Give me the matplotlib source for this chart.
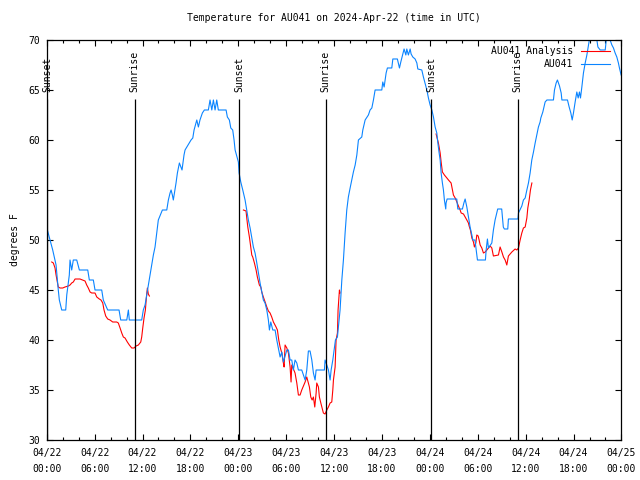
import numpy as np
import matplotlib
matplotlib.use('Agg')
from matplotlib import pyplot as plt
import matplotlib.dates as mdates

plt.rcParams['font.family'] = ['DejaVu Sans Mono']
plt.rcParams['font.size'] = 7

start = np.datetime64('2024-04-22T00:00')

# AU041 observed (hours after 04/22 00:00 UTC, degrees F)
obs_h = [0.08, 0.41, 0.75, 1.17, 1.45, 1.58, 1.88, 2.38, 2.51, 2.83, 2.92, 3.13, 3.33, 3.76, 4.09,
         5.14, 5.34, 5.84, 6.05, 6.89, 7.09, 7.64, 9.06, 9.27, 10.03, 10.23, 10.35, 11.9, 12.1,
         12.32, 12.53, 12.73, 12.94, 13.15, 13.36, 13.57, 13.78, 13.98, 14.49, 15.04, 15.24,
         15.45, 15.58, 15.74, 15.86, 16.2, 16.37, 16.62, 16.95, 17.2, 17.33, 18.08, 18.3, 18.46,
         18.8, 19.0, 19.2, 19.5, 19.75, 20.25, 20.46, 20.68, 20.88, 21.09, 21.3, 21.5, 22.47,
         22.63, 22.88, 23.06, 23.3, 23.47, 23.6, 24.01, 24.1, 24.31, 24.56, 24.85, 25.06, 25.26,
         25.48, 25.69, 25.89, 26.1, 26.32, 26.52, 26.73, 26.94, 27.14, 27.35, 27.57, 27.77, 27.9,
         28.07, 28.32, 28.61, 28.82, 29.24, 29.45, 29.65, 30.08, 30.28, 30.49, 30.7, 30.9, 31.11,
         31.33, 31.53, 31.95, 32.16, 32.37, 32.58, 32.78, 32.99, 33.21, 33.41, 33.62, 33.75,
         34.79, 34.87, 35.09, 35.29, 35.5, 35.63, 35.84, 36.0, 36.17, 36.42, 36.75, 36.97, 37.17,
         37.38, 37.59, 37.79, 38.01, 38.22, 38.42, 38.64, 38.85, 39.05, 39.47, 39.6, 39.89, 40.3,
         40.51, 40.73, 40.93, 41.14, 41.98, 42.1, 42.27, 42.39, 42.52, 42.68, 43.23, 43.36, 43.93,
         44.19, 44.36, 44.61, 44.77, 44.99, 45.11, 45.31, 45.53, 45.65, 45.86, 46.15, 46.37,
         46.49, 46.99, 47.19, 47.62, 47.82, 48.03, 48.25, 48.45, 48.66, 48.87, 49.0, 49.16, 49.29,
         49.41, 49.57, 49.7, 49.82, 49.99, 50.03, 50.16, 51.37, 51.5, 52.08, 52.26, 52.42, 52.63,
         52.83, 53.04, 53.26, 53.38, 53.65, 53.76, 53.96, 54.96, 55.05, 55.21, 55.34, 55.76,
         55.96, 56.17, 56.38, 56.5, 57.0, 57.2, 57.33, 57.76, 57.84, 59.03, 59.1, 59.52, 59.72,
         59.94, 60.15, 60.35, 60.56, 60.77, 60.98, 61.19, 61.4, 61.6, 61.81, 61.9, 62.15, 62.44,
         62.66, 63.48, 63.61, 63.82, 63.98, 64.24, 64.45, 64.54, 65.24, 65.45, 65.66, 65.83,
         65.99, 66.2, 66.41, 66.58, 66.74, 66.87, 67.04, 67.24, 67.46, 67.67, 67.87, 68.08, 68.33,
         68.83, 69.05, 69.34, 69.97, 70.09, 70.22, 70.47, 70.58, 70.8, 71.0, 71.21, 71.42, 71.62,
         71.75, 71.96]
obs_t = [51, 50, 49, 47.5, 45, 44, 43, 43, 44.5, 46.5, 48, 47, 48, 48, 47,
         47, 46, 46, 45, 45, 44, 43, 43, 42, 42, 43, 42, 42, 43,
         43.5, 44.5, 45.5, 46.5, 47.5, 48.5, 49.3, 50.7, 52, 53, 53, 54,
         54.7, 55, 54.5, 54, 55.7, 56.7, 57.7, 57, 58.5, 59, 60, 60.2, 61,
         62, 61.3, 62, 62.7, 63, 63, 64, 63, 64, 63, 64, 63, 63,
         62.3, 62, 61.2, 61, 60, 59, 57.8, 56.7, 55.8, 55, 54, 53, 52,
         51.2, 50.2, 49.3, 48.7, 47.7, 46.7, 45.7, 44.8, 44, 43.7, 43, 42, 41,
         41.8, 41, 41, 40, 38.3, 38.8, 37.8, 39, 39, 38, 38, 37, 38,
         37.7, 37, 37, 36.5, 36, 37, 38.9, 38.9, 38, 36.7, 36, 37,
         37, 38, 37.5, 37, 36, 37, 38, 39, 40, 40.3, 43, 46, 48,
         50.7, 53, 54.3, 55.2, 56, 56.8, 57.5, 58.5, 60, 60.3, 61, 62, 62.5,
         63, 63.2, 64, 65, 65, 65.8, 65.3, 66, 66.7, 67.2, 67.2, 68.1, 68.1,
         67.2, 67.8, 68.6, 69.1, 68.5, 69.1, 68.5, 69.1, 68.6, 68.3, 68.1, 67.7,
         67.1, 67, 66.3, 65, 64.2, 63.5, 63, 62.3, 61.3, 60.7, 59.7, 58.7, 58,
         56.7, 55.7, 55, 54, 53.1, 53.7, 54.1, 54.1, 53.1, 53.1, 53.7, 54.1, 53.3,
         52.3, 51.3, 50.5, 50, 50, 49.3, 48, 48, 49, 50.1, 49.2, 49.7,
         51, 52, 52.7, 53.1, 53.1, 51.3, 51.1, 51.1, 52.1, 52.1, 52.7, 53.4, 54,
         54.2, 55, 55.7, 56.7, 58, 58.8, 59.7, 60.5, 61.3, 61.8, 62.2, 62.8, 63.8,
         64, 64, 65, 65.7, 66, 65.4, 64.7, 64, 64, 63.3, 62.7, 62,
         62.7, 63.8, 64.8, 64.2, 64.8, 64.2, 65.3, 66.7, 67.7, 68.5, 69.5, 70.5, 71,
         70.5, 69.3, 69, 69, 70, 71, 70.5, 70, 69.5, 69.2, 68.7, 68.3, 67.7,
         67.2, 66.5]

# AU041 Analysis, one run per night
ana1_h = [0.63, 0.83, 1.04, 1.17, 1.33, 1.45, 1.67, 2.01, 2.29, 2.71, 2.92, 3.13, 3.33, 3.55, 4.17,
          4.8, 5.01, 5.21, 5.43, 5.64, 6.05, 6.27, 6.59, 6.8, 7.02, 7.18, 7.39, 7.64, 7.93, 8.27,
          8.77, 8.97, 9.19, 9.4, 9.6, 9.81, 10.1, 10.35, 10.65, 10.94, 11.19, 11.48, 11.78, 11.9,
          12.03, 12.19, 12.36, 12.44, 12.53, 12.61, 12.73, 12.86]
ana1_t = [47.8, 47.7, 47.2, 46.5, 45.8, 45.3, 45.2, 45.2, 45.3, 45.4, 45.5, 45.7, 45.8, 46.1, 46.1,
          45.9, 45.5, 45.2, 44.8, 44.7, 44.7, 44.3, 44.1, 44, 43.7, 43, 42.4, 42.1, 42, 41.8,
          41.8, 41.7, 41.2, 40.7, 40.3, 40.2, 39.8, 39.5, 39.2, 39.2, 39.4, 39.5, 39.8, 40.3,
          41.2, 42.2, 43, 43.8, 44.6, 45.2, 44.6, 44.4]

ana2_h = [24.64, 24.97, 25.06, 25.19, 25.39, 25.56, 25.69, 25.81, 26.02, 26.23, 26.39, 26.64, 26.82,
          26.94, 27.14, 27.36, 27.57, 27.77, 27.98, 28.19, 28.4, 28.73, 28.9, 29.07, 29.24, 29.45,
          29.65, 29.74, 29.86, 30.08, 30.28, 30.49, 30.61, 30.7, 31.11, 31.33, 31.53, 31.74, 31.95,
          32.37, 32.58, 32.91, 33.08, 33.25, 33.41, 33.58, 33.75, 33.83, 34.04, 34.16, 34.34, 34.66,
          34.87, 35.09, 35.29, 35.5, 35.71, 35.84, 35.92, 36.13, 36.25, 36.42, 36.5, 36.67, 36.75]
ana2_t = [53, 52.9, 52.2, 51.3, 50.3, 49.3, 48.5, 48.3, 47.7, 47, 46.3, 45.5, 45.3,
          44.8, 44.3, 43.8, 43.3, 42.9, 42.7, 42.3, 41.8, 41.3, 41, 40, 39.3, 38.7,
          37.7, 37.3, 39.5, 39.2, 38.7, 37.3, 35.8, 37.5, 36.7, 35.7, 34.5, 34.5, 35,
          35.8, 36.3, 35.3, 34.3, 34, 34.3, 33.3, 34.7, 35.7, 35.3, 34.3, 33.7, 32.7,
          32.6, 33, 33.3, 33.7, 33.8, 35, 36, 37.3, 40, 40.7, 43, 45, 44.7]

ana3_h = [48.78, 49.07, 49.29, 49.41, 49.57, 49.82, 50.13, 50.33, 50.66, 50.83, 50.95, 51.17, 51.38,
          51.58, 51.79, 51.92, 52.21, 52.42, 52.63, 52.83, 52.92, 53.08, 53.26, 53.46, 53.58, 53.76,
          53.88, 54.05, 54.17, 54.3, 54.51, 54.71, 54.93, 55.14, 55.34, 55.55, 55.76, 55.96, 56.59,
          56.8, 57.02, 57.22, 57.43, 57.64, 57.84, 58.27, 58.68, 58.89, 59.1, 59.31, 59.52, 59.72,
          59.94, 60.15, 60.27, 60.44, 60.6, 60.78]
ana3_t = [60.6, 59.7, 58.7, 57.8, 56.8, 56.5, 56.2, 56, 55.7, 55, 54.5, 54.2, 53.8,
          53.4, 53, 52.7, 52.6, 52.3, 52, 51.7, 51.4, 51, 50.2, 49.8, 49.3, 49.7,
          50.5, 50.4, 50, 49.5, 49.2, 48.7, 48.8, 49, 49.2, 49.4, 49.2, 48.4, 48.5,
          49.3, 48.8, 48.3, 48, 47.5, 48.4, 48.8, 49.1, 49, 49.2, 50, 50.7, 51.2,
          51.3, 52.2, 53.2, 54, 55, 55.7]

sun_h = [0.05, 11.0, 24.1, 34.95, 48.2, 59.0]
sun_lab = ['Sunset', 'Sunrise', 'Sunset', 'Sunrise', 'Sunset', 'Sunrise']


def to_time(h):
    return start + (np.array(h) * 3600).astype('timedelta64[s]')


fig = plt.figure(figsize=(6.4, 4.8), dpi=100)
ax = fig.add_axes([0.073, 0.0833, 0.898, 0.8334])

ax.plot(to_time(ana1_h), ana1_t, color='#ff0000', lw=0.8, label='AU041 Analysis')
ax.plot(to_time(ana2_h), ana2_t, color='#ff0000', lw=0.8)
ax.plot(to_time(ana3_h), ana3_t, color='#ff0000', lw=0.8)
ax.plot(to_time(obs_h), obs_t, color='#0a84ff', lw=0.8, label='AU041')

for h, lab in zip(sun_h, sun_lab):
    t = to_time([h])[0]
    ax.vlines(t, 30, 64.1, color='black', lw=0.9)
    ax.text(t, 64.8, lab, rotation=90, ha='center', va='bottom', fontsize=7)

ax.set_xlim(start, start + np.timedelta64(72, 'h'))
ax.set_ylim(30, 70)
ax.set_yticks(range(30, 71, 5))
ax.xaxis.set_major_locator(mdates.HourLocator(byhour=range(0, 24, 6)))
ax.xaxis.set_minor_locator(mdates.HourLocator(byhour=range(0, 24, 2)))
ax.xaxis.set_major_formatter(mdates.DateFormatter('%m/%d\n%H:%M'))
ax.tick_params(which='both', direction='in', top=True, right=True, width=0.8)
ax.tick_params(which='major', length=4.5)
ax.tick_params(which='minor', length=2.5)
ax.tick_params(axis='x', pad=5.5)
ax.tick_params(axis='y', pad=5)
for lbl in ax.get_xticklabels():
    lbl.set_linespacing(1.75)
for s in ax.spines.values():
    s.set_linewidth(0.9)

ax.set_ylabel('degrees F', labelpad=6)
ax.set_title('Temperature for AU041 on 2024-Apr-22 (time in UTC)', fontsize=7, pad=14)
ax.legend(loc='upper right', bbox_to_anchor=(0.98, 0.985), markerfirst=False, frameon=False,
          handlelength=3.0, handletextpad=0.8, labelspacing=0.35, borderpad=0, borderaxespad=0,
          fontsize=7)

plt.savefig('out.png', dpi=100)
